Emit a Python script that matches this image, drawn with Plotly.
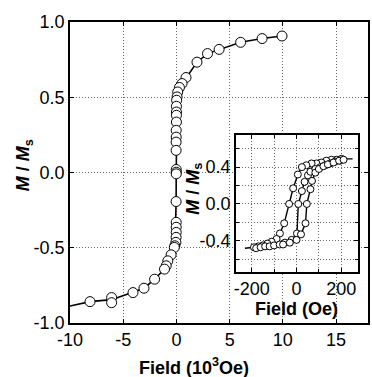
import plotly.graph_objects as go

# Main panel: field in 10^3 Oe, normalized magnetization
main_x = [9.92, 8.05, 6.03, 4.01, 2.92, 1.93, 0.90, 0.53, 0.28, 0.12, 0.06,
          0.02, 0.0, 0.0, 0.0, 0.0, -0.02, -0.02, -0.03, -0.03,
          -0.02, -0.02, -0.02,
          -0.03, -0.02, -0.02, -0.02, -0.03, -0.05, -0.15, -0.2,
          -0.50, -0.81, -0.96, -1.12, -2.05, -3.05, -4.08, -6.09, -6.09, -8.12]
main_y = [0.907, 0.89, 0.865, 0.818, 0.79, 0.733, 0.631, 0.591, 0.565, 0.535, 0.502,
          0.48, 0.44, 0.402, 0.38, 0.335, 0.28, 0.235, 0.202, 0.147,
          0.02, 0.002, -0.009,
          -0.193, -0.331, -0.364, -0.398, -0.431, -0.464, -0.487, -0.498,
          -0.547, -0.587, -0.62, -0.642, -0.709, -0.769, -0.798, -0.831, -0.865, -0.858]

curve_x = [-10.0, -8.12, -6.09, -4.08, -3.05, -2.05, -1.12, -0.81, -0.50, -0.15,
           -0.03, -0.02, 0.0, 0.06, 0.28, 0.90, 1.93, 2.92, 4.01, 6.03, 8.05, 9.92]
curve_y = [-0.887, -0.858, -0.845, -0.798, -0.769, -0.709, -0.642, -0.587, -0.547, -0.49,
           -0.2, 0.0, 0.2, 0.502, 0.565, 0.631, 0.733, 0.79, 0.818, 0.865, 0.89, 0.907]

main_xticks = [-10, -5, 0, 5, 10, 15]
main_xlabels = ["-10", "-5", "0", "5", "10", "15"]
main_yticks = [-1, -0.5, 0, 0.5, 1.0]
main_ylabels = ["-1.0", "-0.5", "0.0", "0.5", "1.0"]

# Inset: field in Oe
inA_x = [250, 200, 178, 156, 133, 111, 89, 67, 44, 24, 6, -15, -33, -55, -74, -89, -111, -130, -150, -170, -190, -230]
inA_y = [0.49, 0.49, 0.48, 0.48, 0.47, 0.45, 0.44, 0.44, 0.42, 0.40, 0.32, 0.17, 0.0, -0.21, -0.32, -0.38, -0.41, -0.43, -0.45, -0.46, -0.47, -0.48]

inB_x = [-180, -160, -140, -120, -100, -75, -52, -22, 2, 8, 24, 36, 51, 62, 84, 106, 128, 150, 172, 194]
inB_y = [-0.48, -0.47, -0.46, -0.46, -0.45, -0.44, -0.42, -0.39, -0.32, 0.0, 0.14, 0.24, 0.31, 0.35, 0.38, 0.40, 0.42, 0.44, 0.46, 0.47]

inC_x = [-60, -30, 0, 20, 40, 46, 62, 69, 84, 100, 120, 140, 165, 190, 210]
inC_y = [-0.44, -0.42, -0.39, -0.33, -0.21, 0.0, 0.16, 0.25, 0.34, 0.38, 0.41, 0.43, 0.45, 0.47, 0.48]

inset_xticks = [-200, 0, 200]
inset_xlabels = ["-200", "0", "200"]
inset_yticks = [-0.4, 0, 0.4]
inset_ylabels = ["-0.4", "0.0", "0.4"]

FONT = "Liberation Sans, Arial, sans-serif"
GRID = "#666"
DASH = "1px,2px"

fig = go.Figure()

fig.add_trace(go.Scatter(x=curve_x, y=curve_y, mode="lines",
                         line=dict(color="black", width=1.6),
                         xaxis="x", yaxis="y", showlegend=False, hoverinfo="skip"))
fig.add_trace(go.Scatter(x=main_x, y=main_y, mode="markers",
                         marker=dict(size=10, color="white", line=dict(color="black", width=1)),
                         xaxis="x", yaxis="y", showlegend=False))

for xs, ys in [(inA_x, inA_y), (inB_x, inB_y), (inC_x, inC_y)]:
    fig.add_trace(go.Scatter(x=xs, y=ys, mode="lines",
                             line=dict(color="black", width=1.4),
                             xaxis="x2", yaxis="y2", showlegend=False))
for xs, ys in [(inA_x[1:-1], inA_y[1:-1]), (inB_x, inB_y), (inC_x, inC_y)]:
    fig.add_trace(go.Scatter(x=xs, y=ys, mode="markers",
                             marker=dict(size=7, color="white", line=dict(color="black", width=1)),
                             xaxis="x2", yaxis="y2", showlegend=False))

axis_common = dict(showline=True, linecolor="black", linewidth=1.5, mirror="ticks",
                   ticks="inside", ticklen=4, tickcolor="black", zeroline=False,
                   showgrid=True, gridcolor=GRID, griddash=DASH, gridwidth=1,
                   tickfont=dict(family=FONT, size=18, color="black"))

ann_common = dict(xref="paper", yref="paper", xanchor="center", yanchor="middle", showarrow=False)

fig.update_layout(
    width=372, height=377,
    margin=dict(l=70, r=2, t=22, b=54),
    paper_bgcolor="white", plot_bgcolor="white",
    font=dict(family=FONT, color="black"),
    xaxis=dict(range=[-10, 18], tickvals=main_xticks, ticktext=main_xlabels, domain=[0, 1],
               anchor="y", **axis_common),
    yaxis=dict(range=[-1, 1], tickvals=main_yticks, ticktext=main_ylabels,
               domain=[0, 1], anchor="x", **axis_common),
    xaxis2=dict(range=[-270, 275], tickvals=inset_xticks, ticktext=inset_xlabels, domain=[0.557, 0.967],
                anchor="y2", minor=dict(dtick=100, showgrid=True, gridcolor=GRID, griddash=DASH,
                                        ticks="inside", ticklen=3, tickcolor="black"),
                **axis_common),
    yaxis2=dict(range=[-0.74, 0.75], tickvals=inset_yticks, ticktext=inset_ylabels,
                domain=[0.169, 0.625], anchor="x2",
                minor=dict(dtick=0.2, tick0=0, showgrid=True, gridcolor=GRID, griddash=DASH,
                           ticks="inside", ticklen=3, tickcolor="black"),
                **axis_common),
    annotations=[
        dict(text="<b>Field (10<sup>3</sup>Oe)</b>", x=0.417, y=-0.145,
             font=dict(family=FONT, size=18), **ann_common),
        dict(text="<b><i>M</i> / <i>M</i><sub>s</sub></b>", x=-0.15, y=0.525, textangle=-90,
             font=dict(family=FONT, size=18), **ann_common),
        dict(text="<b>Field (Oe)</b>", x=0.76, y=0.047,
             font=dict(family=FONT, size=18), **ann_common),
        dict(text="<b><i>M</i> / <i>M</i><sub>s</sub></b>", x=0.415, y=0.445, textangle=-90,
             font=dict(family=FONT, size=18), **ann_common),
    ],
)

fig.write_html("out.html", config={"displayModeBar": False},
               post_script="document.documentElement.style.overflow='hidden';"
                           "document.body.style.margin='0';document.body.style.overflow='hidden';")
